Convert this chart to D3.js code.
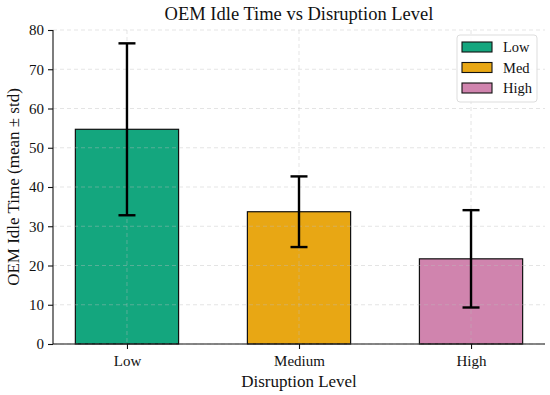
<!DOCTYPE html>
<html>
<head>
<meta charset="utf-8">
<script src="https://cdn.jsdelivr.net/npm/d3@7"></script>
<style>
  body { margin: 0; background: #fff; }
  svg text { font-family: "Liberation Serif", "Times New Roman", serif !important; fill: #111; }
</style>
</head>
<body>
<svg id="chart" width="550" height="395"></svg>
<script>
// Data
const categories = ['Low', 'Medium', 'High'];
const legendLabels = ['Low', 'Med', 'High'];
const means = [54.7, 33.7, 21.7];
const stds = [21.9, 9.0, 12.4];
const colors = ['#009E73', '#E69F00', '#CC79A7'];
const yTicks = [0, 10, 20, 30, 40, 50, 60, 70, 80];

const margin = { top: 30, right: 5, bottom: 51, left: 53 };
const width = 550, height = 395;
const svg = d3.select('#chart');

const plotW = width - margin.left - margin.right;
const plotH = height - margin.top - margin.bottom;

// x as a continuous index scale like matplotlib (-0.43 .. 2.43)
const xIdx = d3.scaleLinear().domain([-0.43, 2.43]).range([margin.left, margin.left + plotW]);
const barW = 0.6;
const y = d3.scaleLinear().domain([0, 80]).range([margin.top + plotH, margin.top]);

const g = svg.append('g');

// bars
g.selectAll('.bar')
  .data(means)
  .enter()
  .append('rect')
  .attr('class', 'bar')
  .attr('x', (d, i) => xIdx(i - barW / 2))
  .attr('width', xIdx(barW) - xIdx(0))
  .attr('y', d => y(d))
  .attr('height', d => y(0) - y(d))
  .attr('fill', (d, i) => colors[i])
  .attr('fill-opacity', 0.92)
  .attr('stroke', '#111')
  .attr('stroke-width', 1.2);

// grid on top, faint dashed
const grid = g.append('g').attr('class', 'grid')
  .attr('stroke', '#bbb').attr('stroke-opacity', 0.45)
  .attr('stroke-width', 0.9).attr('stroke-dasharray', '4,3');
grid.selectAll('.hg')
  .data(yTicks)
  .enter()
  .append('line')
  .attr('x1', margin.left).attr('x2', margin.left + plotW)
  .attr('y1', d => y(d)).attr('y2', d => y(d));
grid.selectAll('.vg')
  .data(categories)
  .enter()
  .append('line')
  .attr('x1', (d, i) => xIdx(i)).attr('x2', (d, i) => xIdx(i))
  .attr('y1', margin.top).attr('y2', margin.top + plotH);

// error bars
const capHalf = 8.5;
const err = g.selectAll('.err')
  .data(means)
  .enter()
  .append('g')
  .attr('class', 'err')
  .attr('stroke', '#000')
  .attr('stroke-width', 2.4);
err.append('line')
  .attr('x1', (d, i) => xIdx(i)).attr('x2', (d, i) => xIdx(i))
  .attr('y1', (d, i) => y(d - stds[i])).attr('y2', (d, i) => y(d + stds[i]));
err.append('line')
  .attr('x1', (d, i) => xIdx(i) - capHalf).attr('x2', (d, i) => xIdx(i) + capHalf)
  .attr('y1', (d, i) => y(d + stds[i])).attr('y2', (d, i) => y(d + stds[i]));
err.append('line')
  .attr('x1', (d, i) => xIdx(i) - capHalf).attr('x2', (d, i) => xIdx(i) + capHalf)
  .attr('y1', (d, i) => y(d - stds[i])).attr('y2', (d, i) => y(d - stds[i]));

// axes
const yAxis = d3.axisLeft(y).tickValues(yTicks).tickSize(5).tickPadding(4);
const yG = svg.append('g')
  .attr('transform', `translate(${margin.left},0)`)
  .call(yAxis)
  .attr('font-family', null).attr('font-size', null);
yG.select('.domain').attr('d', `M0,${margin.top + plotH}V${margin.top}`).attr('stroke', '#111').attr('stroke-width', 1.1);
yG.selectAll('.tick line').attr('stroke', '#111').attr('stroke-width', 1.1);
yG.selectAll('.tick text').style('font-size', '15px').attr('fill', '#111');

const xAxis = d3.axisBottom(xIdx).tickValues([0, 1, 2]).tickFormat(i => categories[i]).tickSize(5).tickPadding(6);
const xG = svg.append('g')
  .attr('transform', `translate(0,${margin.top + plotH})`)
  .call(xAxis)
  .attr('font-family', null).attr('font-size', null);
xG.select('.domain').attr('d', `M${margin.left},0H${margin.left + plotW}`).attr('stroke', '#111').attr('stroke-width', 1.1);
xG.selectAll('.tick line').attr('stroke', '#111').attr('stroke-width', 1.1);
xG.selectAll('.tick text').style('font-size', '15px').attr('fill', '#111');

// title and labels
svg.append('text')
  .attr('x', margin.left + plotW / 2)
  .attr('y', 20)
  .attr('text-anchor', 'middle')
  .style('font-size', '18.5px')
  .text('OEM Idle Time vs Disruption Level');

svg.append('text')
  .attr('x', margin.left + plotW / 2)
  .attr('y', 387)
  .attr('text-anchor', 'middle')
  .style('font-size', '17px')
  .text('Disruption Level');

svg.append('text')
  .attr('transform', `translate(19,${margin.top + plotH / 2}) rotate(-90)`)
  .attr('text-anchor', 'middle')
  .style('font-size', '17px')
  .text('OEM Idle Time (mean ± std)');

// legend
const lg = svg.append('g').attr('transform', 'translate(457,35)');
lg.append('rect')
  .attr('width', 80).attr('height', 67)
  .attr('rx', 3)
  .attr('fill', '#fff').attr('fill-opacity', 0.85)
  .attr('stroke', '#ddd').attr('stroke-width', 1);
const items = lg.selectAll('.item')
  .data(legendLabels)
  .enter()
  .append('g')
  .attr('class', 'item')
  .attr('transform', (d, i) => `translate(5,${7 + i * 20.5})`);
items.append('rect')
  .attr('width', 30).attr('height', 10)
  .attr('fill', (d, i) => colors[i]).attr('fill-opacity', 0.92)
  .attr('stroke', '#111').attr('stroke-width', 1.1);
items.append('text')
  .attr('x', 41).attr('y', 10)
  .style('font-size', '14.5px')
  .text(d => d);
</script>
</body>
</html>
